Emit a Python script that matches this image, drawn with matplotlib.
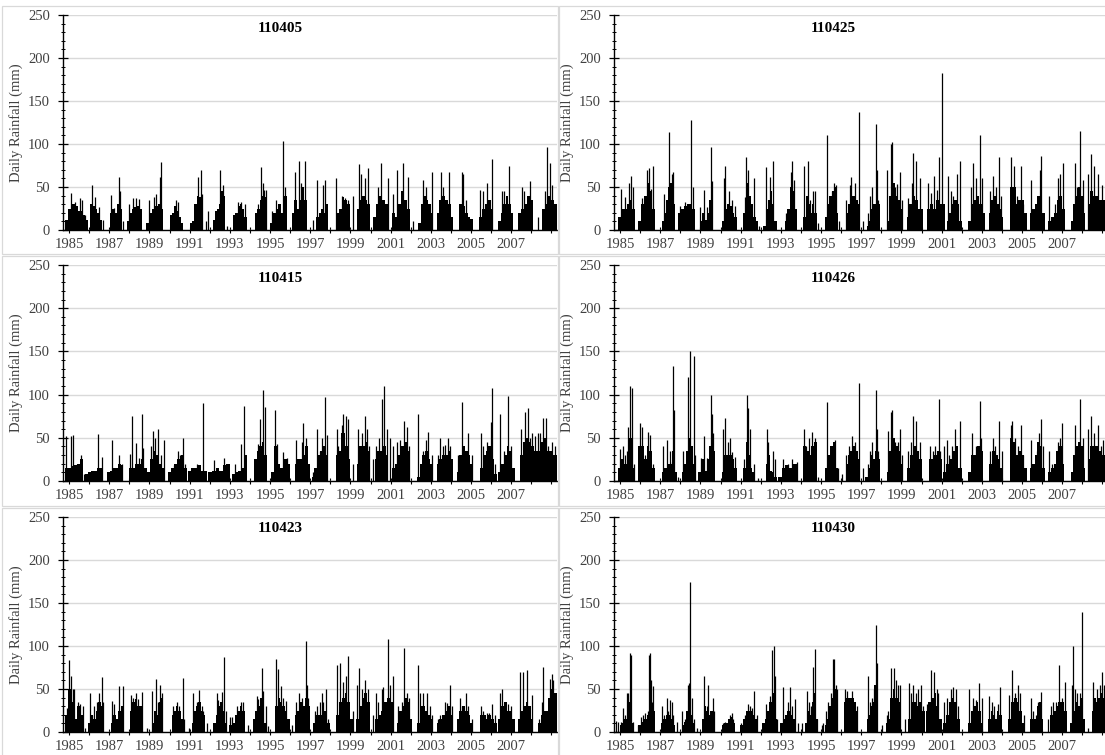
import matplotlib.pyplot as plt
from matplotlib.patches import Rectangle

plt.rcParams['font.family'] = ['Liberation Serif', 'DejaVu Serif']

# ---- data ---------------------------------------------------------------
# wet seasons: (start year, end year, body heights across the season, mm)
# peaks: (decimal year, daily rainfall mm) for the spikes above the body

wet_110405 = [
    (1985.10, 1986.26, [12, 25, 30, 28, 22, 18, 12]),
    (1986.34, 1986.92, [30, 28, 25, 20, 12]),
    (1987.34, 1987.92, [20, 25, 20, 30, 25]),
    (1988.17, 1988.91, [10, 20, 25, 27, 28, 25]),
    (1989.13, 1989.99, [8, 20, 25, 28, 30, 25]),
    (1990.32, 1990.99, [18, 20, 28, 22, 15, 8]),
    (1991.32, 1991.98, [8, 10, 30, 40, 38, 30]),
    (1992.48, 1993.06, [12, 22, 25, 30, 45, 40]),
    (1993.47, 1994.14, [18, 20, 28, 30, 25, 15]),
    (1994.55, 1995.13, [20, 25, 35, 40, 38]),
    (1995.30, 1996.13, [8, 20, 25, 30, 20, 40]),
    (1996.38, 1997.12, [20, 35, 25, 35, 50, 35]),
    (1997.59, 1998.20, [15, 20, 25, 20, 30]),
    (1998.58, 1999.28, [20, 25, 38, 35, 30]),
    (1999.61, 2000.27, [25, 35, 40, 35, 30]),
    (2000.44, 2001.18, [15, 30, 40, 35, 30]),
    (2001.35, 2002.26, [20, 15, 30, 45, 35, 25]),
    (2002.68, 2003.42, [8, 30, 40, 35, 30, 20]),
    (2003.59, 2004.42, [20, 35, 40, 35, 30, 15]),
    (2004.72, 2005.41, [30, 28, 20, 15, 13]),
    (2005.71, 2006.41, [15, 25, 30, 35, 25]),
    (2006.66, 2007.40, [10, 20, 30, 40, 30, 20]),
    (2007.65, 2008.40, [20, 25, 30, 40, 35]),
    (2008.81, 2009.56, [25, 30, 40, 35, 30]),
]
peaks_110405 = [
    (1985.38, 43), (1985.60, 32), (1985.85, 37), (1985.95, 35), (1986.10, 18),
    (1986.45, 52), (1986.60, 38), (1986.80, 27), (1987.00, 12),
    (1987.40, 41), (1987.55, 26), (1987.78, 62), (1987.85, 45), (1988.00, 10),
    (1988.30, 30), (1988.50, 37), (1988.65, 37), (1988.80, 36),
    (1989.30, 35), (1989.55, 38), (1989.65, 42), (1989.85, 62), (1989.90, 79),
    (1990.45, 20), (1990.60, 35), (1990.70, 32),
    (1991.72, 62), (1991.85, 70), (1991.92, 42),
    (1992.10, 10), (1992.20, 22), (1992.60, 20), (1992.82, 70), (1992.98, 52),
    (1993.15, 5), (1993.70, 32), (1993.85, 32), (1994.05, 30),
    (1994.70, 30), (1994.85, 73), (1994.93, 55), (1995.00, 47), (1995.10, 47),
    (1995.40, 22), (1995.60, 35), (1995.93, 103), (1996.05, 50),
    (1996.56, 68), (1996.72, 80), (1996.85, 55), (1997.04, 80), (1997.42, 12),
    (1997.65, 58), (1997.95, 52), (1998.05, 58),
    (1998.60, 60), (1998.90, 40), (1999.05, 37), (1999.20, 35), (1999.41, 40),
    (1999.74, 77), (1999.85, 65), (2000.00, 60), (2000.19, 72),
    (2000.65, 50), (2000.82, 78), (2001.15, 60),
    (2001.40, 42), (2001.60, 70), (2001.93, 78), (2002.15, 62),
    (2002.42, 10), (2002.93, 58), (2003.05, 50), (2003.34, 68),
    (2003.79, 68), (2003.90, 50), (2004.22, 67),
    (2004.83, 68), (2004.92, 65), (2005.05, 35),
    (2005.75, 47), (2005.88, 45), (2006.10, 55), (2006.33, 83),
    (2006.82, 45), (2006.95, 45), (2007.19, 75),
    (2007.82, 50), (2007.95, 45), (2008.23, 57),
    (2008.62, 15), (2008.98, 45), (2009.10, 97), (2009.23, 78), (2009.35, 52),
]

wet_110425 = [
    (1985.22, 1986.04, [15, 25, 25, 30, 35, 25]),
    (1986.21, 1987.04, [10, 30, 40, 55, 45, 25]),
    (1987.37, 1988.03, [10, 20, 35, 50, 55, 30]),
    (1988.20, 1989.03, [20, 25, 28, 30, 30, 25]),
    (1989.28, 1989.94, [10, 20, 12, 20, 35, 40]),
    (1990.36, 1991.10, [10, 25, 30, 28, 20, 15]),
    (1991.43, 1992.18, [20, 55, 40, 30, 15, 10]),
    (1992.43, 1993.09, [5, 25, 35, 45, 30, 10]),
    (1993.51, 1994.09, [10, 25, 50, 45, 25]),
    (1994.42, 1995.08, [15, 40, 30, 20, 30, 20]),
    (1995.50, 1996.16, [15, 30, 40, 45, 50, 20]),
    (1996.52, 1997.25, [20, 30, 35, 40, 40, 35, 30]),
    (1997.57, 1998.23, [5, 10, 25, 30, 40, 30]),
    (1998.56, 1999.39, [10, 40, 55, 40, 35, 25]),
    (1999.56, 2000.39, [15, 30, 40, 35, 25, 25]),
    (2000.55, 2001.47, [25, 30, 25, 35, 30, 30]),
    (2001.55, 2002.29, [10, 20, 30, 35, 30, 10]),
    (2002.63, 2003.45, [10, 30, 35, 40, 30, 20]),
    (2003.65, 2004.37, [20, 35, 40, 30, 25, 15]),
    (2004.70, 2005.53, [50, 50, 30, 35, 35, 20]),
    (2005.69, 2006.44, [20, 25, 30, 40, 35, 20]),
    (2006.60, 2007.44, [10, 15, 20, 35, 40, 25]),
    (2007.72, 2008.43, [10, 30, 40, 50, 40, 20]),
    (2008.56, 2009.43, [30, 45, 40, 40, 35, 35]),
]
peaks_110425 = [
    (1985.33, 48), (1985.55, 38), (1985.75, 55), (1985.85, 63), (1985.96, 50),
    (1986.41, 37), (1986.63, 70), (1986.76, 72), (1986.85, 48), (1986.96, 75),
    (1987.50, 42), (1987.75, 114), (1987.87, 65), (1987.95, 68),
    (1988.30, 28), (1988.55, 32), (1988.81, 128), (1988.95, 50),
    (1989.30, 27), (1989.49, 46), (1989.65, 27), (1989.81, 97), (1989.90, 57),
    (1990.45, 60), (1990.52, 74), (1990.70, 45), (1990.85, 35), (1991.02, 28),
    (1991.50, 38), (1991.57, 85), (1991.68, 70), (1991.97, 60), (1992.20, 5),
    (1992.56, 73), (1992.76, 62), (1992.93, 80),
    (1993.57, 20), (1993.80, 68), (1993.86, 80), (1993.96, 58),
    (1994.45, 75), (1994.64, 80), (1994.75, 35), (1994.92, 45), (1995.00, 45),
    (1995.17, 8),
    (1995.61, 110), (1995.83, 45), (1995.96, 55), (1996.03, 52), (1996.20, 10),
    (1996.55, 35), (1996.72, 52), (1996.80, 62), (1996.98, 55), (1997.19, 137),
    (1997.40, 10),
    (1997.62, 20), (1997.73, 40), (1997.82, 50), (1998.02, 123), (1998.08, 70),
    (1998.15, 35),
    (1998.60, 70), (1998.76, 100), (1998.83, 102), (1998.98, 50), (1999.09, 53),
    (1999.23, 67), (1999.34, 35),
    (1999.61, 37), (1999.81, 55), (1999.89, 89), (2000.02, 80), (2000.22, 60),
    (2000.64, 55), (2000.77, 43), (2000.93, 63), (2001.05, 46), (2001.17, 85),
    (2001.33, 183),
    (2001.63, 63), (2001.76, 45), (2001.88, 40), (2002.05, 65), (2002.21, 80),
    (2002.76, 50), (2002.84, 78), (2003.01, 60), (2003.19, 110), (2003.29, 60),
    (2003.70, 45), (2003.87, 63), (2003.99, 50), (2004.15, 85), (2004.25, 40),
    (2004.75, 85), (2004.88, 75), (2005.03, 40), (2005.23, 75), (2005.36, 30),
    (2005.73, 58), (2005.86, 25), (2006.03, 30), (2006.19, 70), (2006.22, 86),
    (2006.65, 40), (2006.94, 30), (2007.10, 60), (2007.19, 65), (2007.32, 78),
    (2007.93, 78), (2008.05, 50), (2008.20, 115), (2008.31, 58),
    (2008.60, 65), (2008.73, 88), (2008.89, 75), (2009.09, 65), (2009.26, 52),
]

wet_110415 = [
    (1985.10, 1986.00, [15, 15, 17, 18, 20, 25]),
    (1986.10, 1987.00, [8, 10, 12, 12, 15, 15]),
    (1987.20, 1988.00, [10, 12, 15, 15, 20, 18]),
    (1988.30, 1989.16, [15, 15, 20, 20, 25, 15]),
    (1989.16, 1990.07, [10, 25, 35, 30, 20, 15]),
    (1990.24, 1991.15, [10, 15, 20, 25, 30, 15]),
    (1991.24, 1992.15, [12, 15, 15, 18, 12, 12]),
    (1992.23, 1993.31, [10, 12, 15, 12, 18, 20]),
    (1993.39, 1994.14, [8, 10, 12, 15, 30]),
    (1994.52, 1995.13, [25, 35, 40, 45, 30]),
    (1995.33, 1996.30, [10, 40, 20, 15, 25, 20]),
    (1996.54, 1997.29, [20, 25, 25, 30, 40, 20]),
    (1997.37, 1998.20, [5, 15, 30, 35, 40, 30]),
    (1998.58, 1999.28, [30, 35, 55, 55, 40, 25]),
    (1999.61, 2000.27, [20, 40, 40, 45, 35]),
    (2000.52, 2001.18, [25, 35, 35, 40, 40, 30]),
    (2001.35, 2002.26, [15, 20, 30, 40, 45, 35]),
    (2002.60, 2003.42, [5, 20, 30, 35, 25, 20]),
    (2003.59, 2004.42, [20, 25, 30, 30, 35, 25]),
    (2004.58, 2005.41, [10, 30, 40, 35, 30, 20]),
    (2005.75, 2006.57, [15, 30, 35, 40, 25, 8]),
    (2006.66, 2007.49, [10, 20, 30, 40, 35, 15]),
    (2007.74, 2008.57, [30, 45, 50, 45, 40, 35]),
    (2008.60, 2009.56, [35, 45, 50, 35, 35, 30]),
]
peaks_110415 = [
    (1985.15, 52), (1985.38, 52), (1985.48, 53), (1985.70, 20), (1985.90, 30),
    (1986.02, 8),
    (1986.72, 54), (1986.92, 28),
    (1987.42, 48), (1987.79, 30), (1987.92, 20),
    (1988.35, 31), (1988.43, 75), (1988.63, 44), (1988.80, 27), (1988.93, 77),
    (1989.00, 38),
    (1989.40, 40), (1989.49, 58), (1989.60, 50), (1989.74, 60), (1989.87, 30),
    (1990.00, 47),
    (1990.52, 18), (1990.74, 35), (1990.82, 30), (1990.95, 50), (1991.06, 20),
    (1991.65, 20), (1991.98, 90),
    (1992.53, 24), (1993.03, 27), (1993.14, 20),
    (1993.57, 20), (1993.88, 43), (1994.00, 87),
    (1994.72, 43), (1994.80, 72), (1994.95, 105), (1995.05, 86),
    (1995.55, 82), (1995.63, 43), (1995.96, 33), (1996.13, 27),
    (1996.59, 47), (1996.70, 25), (1996.87, 45), (1996.96, 67), (1997.08, 50),
    (1997.42, 10), (1997.65, 60), (1997.78, 35), (1997.87, 50), (1998.03, 97),
    (1998.12, 53),
    (1998.61, 60), (1998.70, 40), (1998.86, 65), (1998.95, 77), (1999.06, 75),
    (1999.20, 72), (1999.41, 20),
    (1999.69, 60), (1999.86, 55), (2000.00, 75), (2000.11, 60), (2000.24, 40),
    (2000.40, 25),
    (2000.57, 40), (2000.72, 50), (2000.89, 95), (2000.97, 110), (2001.13, 60),
    (2001.27, 50),
    (2001.43, 40), (2001.60, 45), (2001.77, 47), (2001.96, 70), (2002.13, 63),
    (2002.23, 40),
    (2002.68, 77), (2002.93, 35), (2003.06, 48), (2003.17, 57), (2003.34, 30),
    (2003.64, 30), (2003.76, 50), (2003.89, 40), (2004.00, 42), (2004.17, 50),
    (2004.25, 40),
    (2004.63, 30), (2004.83, 92), (2004.92, 35), (2005.16, 55), (2005.33, 30),
    (2005.80, 55), (2005.91, 40), (2006.08, 45), (2006.30, 68), (2006.33, 108),
    (2006.49, 20),
    (2006.76, 78), (2006.94, 35), (2007.15, 98), (2007.27, 40),
    (2007.77, 60), (2007.98, 80), (2008.12, 85), (2008.23, 50), (2008.35, 55),
    (2008.48, 52),
    (2008.65, 55), (2008.73, 55), (2008.90, 73), (2009.01, 73), (2009.15, 40),
    (2009.31, 45), (2009.48, 40),
]

wet_110426 = [
    (1985.22, 1986.04, [15, 25, 20, 30, 50, 15]),
    (1986.21, 1987.04, [40, 40, 25, 40, 35, 15]),
    (1987.37, 1988.12, [10, 15, 20, 20, 35, 10]),
    (1988.37, 1989.03, [10, 20, 35, 50, 40, 20]),
    (1989.20, 1990.02, [10, 25, 12, 25, 40, 35]),
    (1990.36, 1991.10, [10, 30, 30, 30, 25, 15]),
    (1991.43, 1992.00, [15, 45, 30, 15, 10]),
    (1992.55, 1993.09, [20, 30, 12, 10, 5]),
    (1993.18, 1994.17, [5, 15, 18, 15, 20, 20]),
    (1994.42, 1995.08, [40, 35, 30, 40, 45]),
    (1995.50, 1996.16, [15, 30, 40, 45, 15]),
    (1996.52, 1997.25, [20, 30, 35, 40, 35, 25]),
    (1997.49, 1998.23, [5, 15, 30, 25, 35, 25]),
    (1998.56, 1999.39, [10, 35, 50, 40, 35, 20]),
    (1999.56, 2000.34, [15, 30, 40, 35, 25]),
    (2000.69, 2001.30, [25, 25, 30, 35, 25]),
    (2001.38, 2002.29, [10, 20, 25, 35, 40, 15]),
    (2002.63, 2003.37, [10, 30, 30, 40, 35]),
    (2003.65, 2004.37, [20, 35, 30, 25, 15]),
    (2004.70, 2005.53, [50, 45, 30, 35, 30, 15]),
    (2005.69, 2006.44, [15, 20, 30, 45, 40, 15]),
    (2006.60, 2007.40, [10, 15, 20, 35, 40, 20]),
    (2007.72, 2008.43, [10, 30, 40, 45, 40, 15]),
    (2008.56, 2009.43, [25, 40, 40, 40, 35, 30]),
]
peaks_110426 = [
    (1985.30, 37), (1985.43, 40), (1985.55, 30), (1985.63, 35), (1985.72, 63),
    (1985.81, 110), (1985.88, 108), (1985.99, 20),
    (1986.29, 67), (1986.41, 63), (1986.54, 30), (1986.67, 57), (1986.81, 53),
    (1986.96, 20),
    (1987.42, 40), (1987.63, 48), (1987.79, 35), (1987.87, 22), (1987.95, 133),
    (1988.00, 82), (1988.20, 5),
    (1988.45, 35), (1988.62, 35), (1988.70, 120), (1988.80, 151), (1988.96, 145),
    (1989.03, 30),
    (1989.31, 27), (1989.48, 52), (1989.61, 27), (1989.81, 99), (1989.86, 78),
    (1989.92, 55),
    (1990.44, 60), (1990.52, 73), (1990.69, 45), (1990.77, 50), (1990.89, 33),
    (1991.02, 28),
    (1991.48, 25), (1991.60, 100), (1991.68, 85), (1991.77, 60), (1991.97, 20),
    (1992.18, 3),
    (1992.60, 60), (1992.68, 45), (1992.93, 35), (1993.01, 25),
    (1993.43, 25), (1993.67, 20), (1993.87, 25), (1994.09, 22),
    (1994.45, 60), (1994.53, 40), (1994.70, 50), (1994.87, 57), (1995.00, 50),
    (1995.17, 5),
    (1995.60, 91), (1995.70, 25), (1995.80, 40), (1996.00, 47), (1996.13, 15),
    (1996.33, 8),
    (1996.55, 30), (1996.70, 40), (1996.85, 52), (1997.00, 45), (1997.19, 113),
    (1997.40, 15),
    (1997.62, 20), (1997.73, 35), (1997.85, 45), (1998.02, 105), (1998.08, 60),
    (1998.15, 35),
    (1998.61, 58), (1998.76, 80), (1998.84, 82), (1998.98, 45), (1999.11, 45),
    (1999.23, 60), (1999.34, 30),
    (1999.64, 35), (1999.77, 45), (1999.89, 75), (2000.02, 70), (2000.22, 45),
    (2000.72, 40), (2000.85, 35), (2000.97, 40), (2001.17, 95), (2001.22, 35),
    (2001.41, 40), (2001.58, 48), (2001.68, 30), (2001.80, 40), (2001.96, 60),
    (2002.21, 70),
    (2002.79, 55), (2003.01, 40), (2003.19, 93), (2003.26, 50),
    (2003.70, 35), (2003.87, 50), (2003.95, 40), (2004.15, 70), (2004.28, 35),
    (2004.75, 65), (2004.81, 70), (2004.95, 50), (2005.11, 40), (2005.25, 65),
    (2005.36, 30),
    (2005.73, 48), (2005.89, 20), (2006.03, 35), (2006.16, 55), (2006.24, 72),
    (2006.36, 40),
    (2006.65, 35), (2006.77, 20), (2007.02, 25), (2007.10, 45), (2007.19, 50),
    (2007.30, 67),
    (2007.93, 65), (2008.06, 40), (2008.20, 95), (2008.31, 50),
    (2008.60, 60), (2008.73, 75), (2008.89, 55), (2009.06, 65), (2009.23, 40),
    (2009.34, 48),
]

wet_110423 = [
    (1985.10, 1986.01, [20, 50, 35, 15, 30, 20]),
    (1986.26, 1987.00, [10, 20, 15, 25, 35, 30]),
    (1987.39, 1988.00, [10, 20, 15, 25, 30]),
    (1988.33, 1988.91, [25, 35, 38, 30, 30]),
    (1989.41, 1989.99, [10, 25, 20, 35, 40]),
    (1990.41, 1991.07, [20, 25, 30, 25, 15, 10]),
    (1991.40, 1992.07, [10, 25, 30, 35, 25, 20]),
    (1992.48, 1993.14, [10, 20, 30, 35, 25, 10]),
    (1993.28, 1994.06, [8, 10, 20, 25, 30, 25]),
    (1994.44, 1995.13, [15, 25, 30, 40, 30, 10]),
    (1995.55, 1996.29, [30, 40, 35, 30, 25, 15]),
    (1996.54, 1997.29, [20, 25, 35, 30, 40, 30]),
    (1997.45, 1998.28, [10, 20, 20, 25, 25, 10]),
    (1998.58, 1999.44, [20, 35, 40, 45, 35, 15]),
    (1999.58, 2000.27, [15, 30, 40, 45, 35]),
    (2000.52, 2001.43, [15, 20, 25, 35, 40, 35]),
    (2001.60, 2002.35, [10, 25, 30, 40, 35, 15]),
    (2002.63, 2003.42, [10, 30, 30, 25, 20, 15]),
    (2003.59, 2004.42, [10, 15, 20, 25, 30, 20]),
    (2004.58, 2005.41, [15, 25, 30, 25, 20, 10]),
    (2005.75, 2006.57, [20, 20, 15, 20, 15, 10]),
    (2006.66, 2007.49, [15, 30, 35, 25, 25, 15]),
    (2007.65, 2008.40, [15, 25, 30, 35, 30, 15]),
    (2008.65, 2009.56, [10, 20, 25, 40, 50, 45]),
]
peaks_110423 = [
    (1985.18, 28), (1985.32, 84), (1985.38, 65), (1985.48, 50), (1985.55, 50),
    (1985.65, 12), (1985.76, 35), (1985.85, 32), (1985.98, 30), (1986.10, 5),
    (1986.35, 45), (1986.43, 20), (1986.55, 30), (1986.68, 35), (1986.81, 45),
    (1986.92, 64), (1987.00, 35),
    (1987.42, 36), (1987.55, 33), (1987.79, 53), (1987.97, 53),
    (1988.38, 43), (1988.50, 40), (1988.61, 45), (1988.71, 38), (1988.91, 47),
    (1989.16, 5),
    (1989.44, 48), (1989.63, 62), (1989.71, 35), (1989.83, 55), (1989.94, 45),
    (1990.46, 30), (1990.65, 35), (1990.79, 30), (1990.99, 63), (1991.04, 15),
    (1991.28, 5),
    (1991.48, 45), (1991.65, 35), (1991.77, 49), (1991.90, 30), (1991.98, 25),
    (1992.15, 10),
    (1992.65, 45), (1992.73, 37), (1992.90, 47), (1993.01, 87), (1993.09, 25),
    (1993.31, 18), (1993.43, 18), (1993.64, 30), (1993.84, 35), (1993.97, 35),
    (1994.22, 8),
    (1994.63, 42), (1994.71, 38), (1994.88, 75), (1994.96, 48), (1995.08, 30),
    (1995.21, 7),
    (1995.60, 85), (1995.71, 73), (1995.85, 53), (1995.96, 40), (1996.09, 36),
    (1996.38, 8),
    (1996.57, 35), (1996.75, 45), (1996.87, 40), (1997.07, 106), (1997.12, 55),
    (1997.20, 40),
    (1997.54, 25), (1997.65, 30), (1997.78, 35), (1997.87, 45), (1997.95, 35),
    (1998.08, 50), (1998.20, 15),
    (1998.61, 78), (1998.78, 80), (1998.95, 58), (1999.06, 65), (1999.19, 88),
    (1999.41, 25),
    (1999.64, 55), (1999.74, 75), (1999.86, 50), (2000.02, 60), (2000.16, 50),
    (2000.40, 20),
    (2000.57, 45), (2000.69, 35), (2000.85, 50), (2000.94, 52), (2001.18, 108),
    (2001.27, 55), (2001.40, 65),
    (2001.68, 30), (2001.85, 35), (2001.98, 98), (2002.10, 45), (2002.23, 40),
    (2002.68, 78), (2002.76, 45), (2002.93, 45), (2003.09, 45), (2003.26, 30),
    (2003.34, 20),
    (2003.64, 15), (2003.76, 20), (2004.00, 35), (2004.09, 34), (2004.25, 55),
    (2004.34, 30),
    (2004.75, 40), (2004.87, 30), (2005.03, 45), (2005.17, 30), (2005.33, 15),
    (2005.78, 30), (2005.91, 25), (2006.08, 22), (2006.21, 22), (2006.33, 33),
    (2006.49, 20),
    (2006.74, 45), (2006.82, 50), (2006.99, 35), (2007.15, 33), (2007.29, 30),
    (2007.74, 70), (2007.87, 70), (2008.07, 72), (2008.20, 30), (2008.32, 43),
    (2008.70, 15), (2008.81, 35), (2008.90, 76), (2009.03, 25), (2009.23, 62),
    (2009.31, 68), (2009.39, 60), (2009.53, 20),
]

wet_110430 = [
    (1985.30, 1985.96, [8, 10, 15, 20, 35, 10]),
    (1986.21, 1987.04, [8, 12, 15, 20, 35, 25]),
    (1987.34, 1988.03, [10, 15, 20, 20, 15, 8]),
    (1988.37, 1989.03, [8, 12, 25, 40, 20, 10]),
    (1989.36, 1990.02, [15, 30, 25, 20, 25, 10]),
    (1990.36, 1991.02, [8, 10, 10, 15, 18, 10]),
    (1991.27, 1992.18, [8, 15, 25, 25, 20, 15]),
    (1992.38, 1993.09, [10, 15, 25, 35, 45, 15]),
    (1993.26, 1994.00, [10, 15, 20, 25, 20, 15]),
    (1994.50, 1995.17, [10, 25, 20, 35, 45, 15]),
    (1995.50, 1996.16, [8, 15, 30, 40, 50, 20]),
    (1996.45, 1997.15, [35, 40, 40, 40, 35, 25]),
    (1997.57, 1998.15, [15, 20, 30, 35, 55, 40]),
    (1998.51, 1999.23, [10, 15, 40, 50, 40, 35]),
    (1999.61, 2000.47, [15, 35, 35, 30, 35, 25]),
    (2000.50, 2001.30, [25, 35, 40, 45, 30, 15]),
    (2001.38, 2002.21, [10, 20, 35, 40, 35, 15]),
    (2002.63, 2003.37, [10, 25, 30, 35, 25, 10]),
    (2003.62, 2004.29, [15, 25, 20, 15, 25, 20]),
    (2004.62, 2005.45, [15, 35, 40, 35, 25, 10]),
    (2005.69, 2006.36, [15, 15, 15, 30, 35, 15]),
    (2006.69, 2007.52, [20, 25, 30, 35, 35, 25]),
    (2007.69, 2008.43, [10, 25, 35, 30, 40, 15]),
    (2008.76, 2009.43, [25, 40, 35, 40, 45, 40]),
]
peaks_110430 = [
    (1985.10, 13), (1985.21, 12), (1985.33, 12), (1985.47, 28), (1985.55, 20),
    (1985.63, 45), (1985.71, 45), (1985.80, 92), (1985.85, 90), (1985.93, 12),
    (1986.21, 8), (1986.34, 18), (1986.46, 20), (1986.54, 22), (1986.63, 15),
    (1986.68, 25), (1986.76, 90), (1986.79, 92), (1986.82, 60), (1986.91, 35),
    (1986.96, 53),
    (1987.37, 30), (1987.50, 20), (1987.62, 40), (1987.70, 25), (1987.79, 37),
    (1987.87, 35), (1987.95, 20), (1988.12, 12),
    (1988.40, 25), (1988.53, 15), (1988.62, 20), (1988.67, 55), (1988.73, 57),
    (1988.78, 175), (1988.86, 40), (1988.99, 15), (1989.15, 5),
    (1989.49, 65), (1989.61, 30), (1989.69, 55), (1989.82, 25), (1989.94, 40),
    (1989.99, 25),
    (1990.40, 10), (1990.52, 12), (1990.64, 10), (1990.77, 20), (1990.85, 22),
    (1990.94, 15),
    (1991.32, 10), (1991.52, 20), (1991.65, 33), (1991.77, 30), (1991.85, 28),
    (1991.97, 48), (1992.10, 20),
    (1992.43, 10), (1992.56, 33), (1992.65, 20), (1992.76, 42), (1992.88, 95),
    (1992.96, 100), (1993.01, 65), (1993.09, 15),
    (1993.29, 10), (1993.39, 52), (1993.51, 10), (1993.67, 35), (1993.76, 52),
    (1993.84, 30), (1994.00, 38),
    (1994.17, 10), (1994.34, 10),
    (1994.58, 48), (1994.70, 35), (1994.80, 30), (1994.88, 76), (1995.00, 96),
    (1995.08, 15),
    (1995.33, 8), (1995.41, 10),
    (1995.55, 25), (1995.66, 35), (1995.80, 45), (1995.88, 85), (1995.95, 85),
    (1996.03, 55), (1996.08, 50),
    (1996.49, 50), (1996.61, 48), (1996.82, 48), (1996.95, 35), (1997.07, 30),
    (1997.65, 65), (1997.73, 35), (1997.85, 40), (1997.93, 50), (1998.02, 125),
    (1998.07, 80), (1998.35, 8),
    (1998.56, 20), (1998.65, 25), (1998.76, 75), (1998.93, 75), (1999.01, 60),
    (1999.14, 55), (1999.23, 55), (1999.48, 15),
    (1999.69, 57), (1999.77, 45), (1999.89, 55), (2000.02, 45), (2000.14, 50),
    (2000.27, 55), (2000.39, 30),
    (2000.55, 33), (2000.77, 72), (2000.92, 70), (2001.05, 50), (2001.13, 45),
    (2001.43, 35), (2001.58, 40), (2001.76, 50), (2001.85, 52), (2002.01, 50),
    (2002.13, 30),
    (2002.68, 50), (2002.87, 40), (2003.01, 37), (2003.16, 57), (2003.29, 40),
    (2003.67, 42), (2003.79, 35), (2003.92, 30), (2004.04, 20), (2004.12, 33),
    (2004.20, 52),
    (2004.65, 43), (2004.78, 72), (2004.95, 45), (2005.08, 55), (2005.20, 45),
    (2005.40, 20),
    (2005.73, 40), (2005.86, 25), (2005.98, 20), (2006.11, 35), (2006.22, 47),
    (2006.61, 15),
    (2006.74, 30), (2006.86, 35), (2006.97, 35), (2007.16, 78), (2007.27, 40),
    (2007.44, 58),
    (2007.77, 55), (2007.85, 100), (2007.93, 50), (2008.05, 45), (2008.18, 45),
    (2008.26, 140), (2008.60, 5),
    (2008.85, 58), (2009.01, 50), (2009.18, 55), (2009.29, 70), (2009.39, 55),
]

stations = ['110405', '110425', '110415', '110426', '110423', '110430']
wet_all = [wet_110405, wet_110425, wet_110415, wet_110426, wet_110423, wet_110430]
peaks_all = [peaks_110405, peaks_110425, peaks_110415, peaks_110426,
             peaks_110423, peaks_110430]
years = list(range(1985, 2010))
labelled_years = list(range(1985, 2008, 2))

# ---- layout (pixels of the 1105 x 755 canvas) ---------------------------
W, H = 1105, 755
PX_PER_YEAR = 20.1
AX_W = 494
col_x = [63, 614]
row_y = [(15, 230), (265, 481), (517, 732)]
title_x = [280, 833]
title_y = [28, 278, 529]
GRID = '#d9d9d9'
TXT = '#404040'

fig = plt.figure(figsize=(W / 100, H / 100), dpi=100)

# light chart-area frames
for (x0, x1) in [(2, 558), (559, 1115)]:
    for (y0, y1) in [(6, 254), (256, 506), (508, 760)]:
        fig.patches.append(Rectangle((x0 / W, 1 - y1 / H), (x1 - x0) / W,
                                     (y1 - y0) / H, transform=fig.transFigure,
                                     fill=False, edgecolor=GRID, linewidth=0.9))

for i, name in enumerate(stations):
    r, c = divmod(i, 2)
    top, bot = row_y[r]
    ax = fig.add_axes([col_x[c] / W, 1 - bot / H, AX_W / W, (bot - top) / H])

    for start, end, heights in wet_all[i]:
        w = (end - start) / len(heights)
        lefts = [start + k * w for k in range(len(heights))]
        ax.bar(lefts, heights, width=w, align='edge', color='black',
               linewidth=0, zorder=2)
    xs = [p[0] for p in peaks_all[i]]
    vs = [p[1] for p in peaks_all[i]]
    ax.vlines(xs, 0, vs, color='black', linewidth=0.9, zorder=2)

    ax.set_xlim(1985, 1985 + AX_W / PX_PER_YEAR)
    ax.set_ylim(0, 250)
    ax.set_yticks(range(0, 251, 50))
    ax.set_yticks(range(0, 251, 10), minor=True)
    ax.grid(axis='y', which='major', color=GRID, linewidth=1.0)
    ax.set_axisbelow(True)
    for s in ('top', 'right'):
        ax.spines[s].set_visible(False)
    for s in ('left', 'bottom'):
        ax.spines[s].set_color('black')
        ax.spines[s].set_linewidth(1.0)

    ax.set_xticks([y + 0.3 for y in years])
    ax.set_xticklabels([str(y) if y in labelled_years else '' for y in years])
    ax.tick_params(axis='x', direction='inout', length=5, width=0.8,
                   labelsize=10.5, labelcolor=TXT, pad=3)
    ax.tick_params(axis='y', which='major', direction='inout', length=7,
                   width=0.9, labelsize=10.5, labelcolor=TXT, pad=6)
    ax.tick_params(axis='y', which='minor', direction='inout', length=3.5,
                   width=0.7)

    ax.set_ylabel('Daily Rainfall (mm)', fontsize=10.5, color=TXT)
    ax.yaxis.set_label_coords((23 - 63) / AX_W, 0.5)

    fig.text(title_x[c] / W, 1 - title_y[r] / H, name, ha='center',
             va='center', fontsize=11, fontweight='bold')

fig.savefig('out.png', dpi=100)
